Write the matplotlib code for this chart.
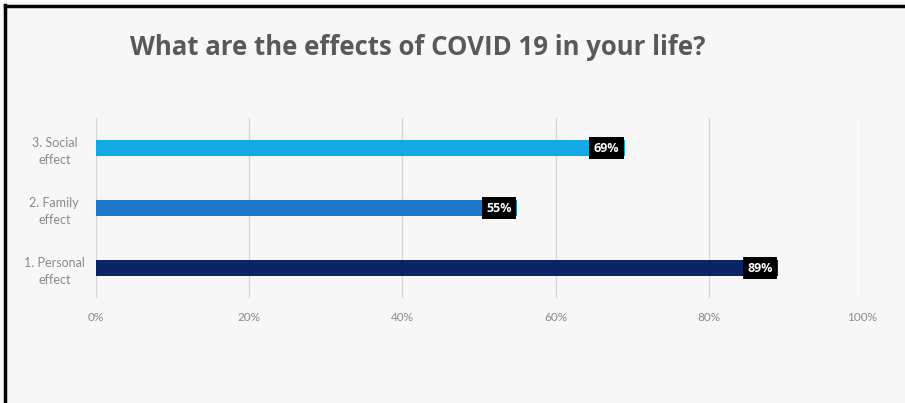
import matplotlib
matplotlib.use("Agg")
import matplotlib.pyplot as plt
from matplotlib.lines import Line2D

# data, bottom to top
categories = ["1. Personal\neffect", "2. Family\neffect", "3. Social\neffect"]
values = [89, 55, 69]
labels = ["89%", "55%", "69%"]
colors = ["#0b2468", "#1a78cc", "#12a9e6"]
xticks = [0, 20, 40, 60, 80, 100]

plt.rcParams["font.family"] = ["Lato", "DejaVu Sans"]

fig = plt.figure(figsize=(9.05, 4.03), dpi=100)
fig.patch.set_facecolor("#f7f7f7")
ax = fig.add_axes([96 / 905, 1 - 298 / 403, 766 / 905, 180 / 403])
ax.set_facecolor("#f7f7f7")

ypos = list(range(len(categories)))
ax.barh(ypos, values, height=0.27, color=colors, zorder=3)

for y, v, lab in zip(ypos, values, labels):
    ax.text(v - 0.7, y, lab, ha="right", va="center", color="white",
            fontsize=9, fontweight="bold", zorder=4,
            family=["Open Sans", "DejaVu Sans"],
            bbox=dict(boxstyle="square,pad=0.35", fc="black", ec="none"))

ax.set_xlim(0, 100)
ax.set_ylim(-0.5, 2.5)
ax.set_xticks(xticks)
ax.set_xticklabels([f"{t}%" for t in xticks])
ax.set_yticks(ypos)
ax.set_yticklabels(categories, ha="center", linespacing=1.45)
ax.tick_params(axis="y", length=0, pad=30, labelsize=9, labelcolor="#8a8a8a")
ax.tick_params(axis="x", length=0, pad=10, labelsize=8.5, labelcolor="#8a8a8a")
ax.grid(axis="x", color="#d6d6d6", linewidth=1, zorder=0)
for s in ax.spines.values():
    s.set_visible(False)

fig.text(0.462, 0.881, "What are the effects of COVID 19 in your life?",
         ha="center", va="center", fontsize=18.5, fontweight="bold", color="#595959",
         family=["Open Sans", "DejaVu Sans"])

# black frame on the left and top edges of the screenshot
fig.add_artist(Line2D([5 / 905, 5 / 905], [0, 1 - 5 / 403], color="black",
                      linewidth=2.5, transform=fig.transFigure))
fig.add_artist(Line2D([5 / 905, 1], [1 - 6 / 403, 1 - 6 / 403], color="black",
                      linewidth=2.5, transform=fig.transFigure))

fig.savefig("out.png", dpi=100, facecolor=fig.get_facecolor())
